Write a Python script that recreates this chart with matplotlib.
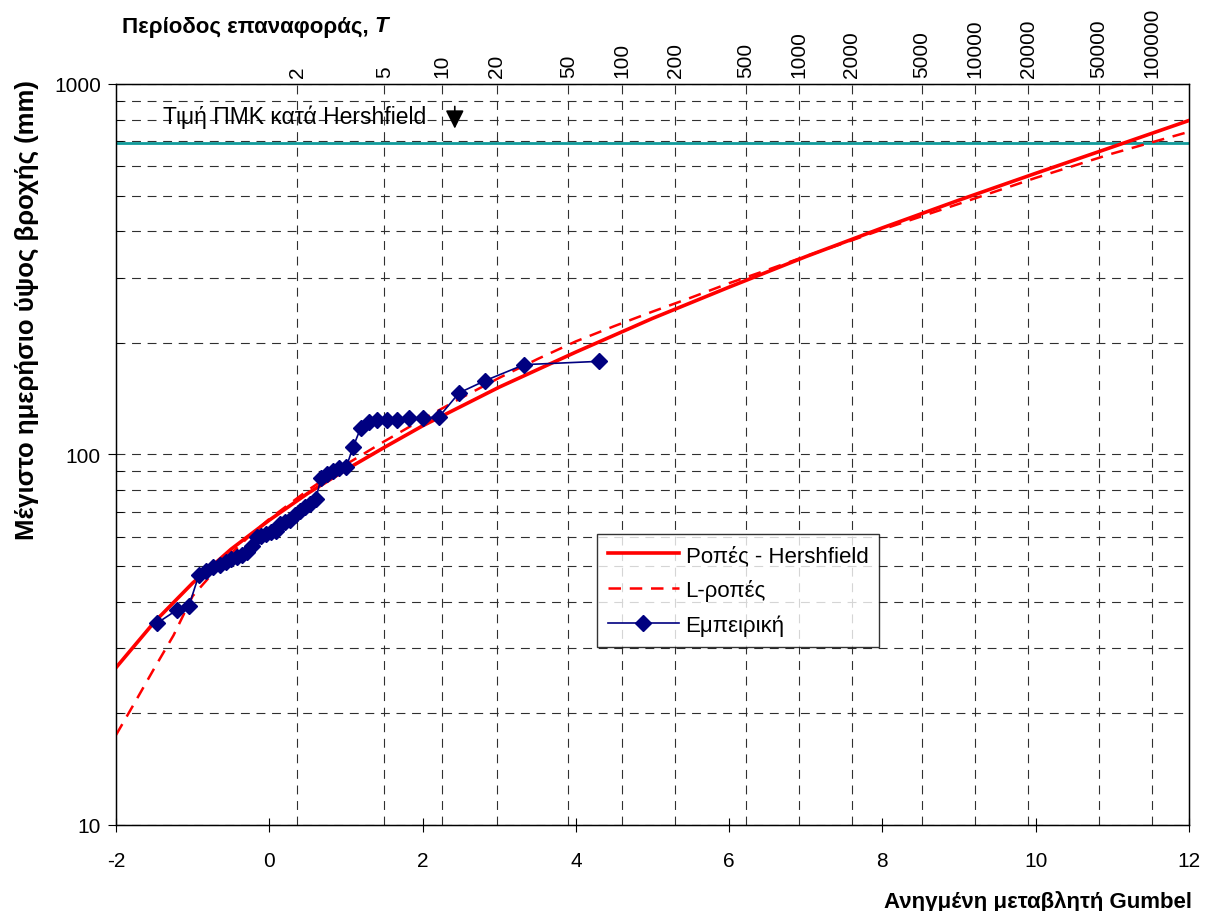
import numpy as np
import matplotlib
matplotlib.use("Agg")
import matplotlib.pyplot as plt
from matplotlib.ticker import LogLocator, FixedLocator, NullFormatter, FixedFormatter

plt.rcParams['font.family'] = ['Liberation Sans', 'DejaVu Sans']
plt.rcParams['axes.unicode_minus'] = False

# --- data ---
# moments - Hershfield fit
mom_x = [-2, -1.5, -1, -0.5, 0, 0.5, 1, 1.5, 2, 3, 4, 5, 6, 7, 8, 9, 10, 11, 12]
mom_y = [26.6, 35.3, 45.0, 55.5, 66.5, 78.5, 91.0, 104.5, 119.5, 152, 189, 233,
         283, 342, 409, 486, 574, 676, 797]

# L-moments fit
lmom_x = [-2, -1.75, -1.5, -1.25, -1, -0.75, -0.5, -0.25, 0, 0.5, 1, 1.5, 2, 2.5,
          3, 3.5, 4, 4.5, 5, 5.5, 6, 6.5, 7, 7.5, 8, 9, 10, 11, 12]
lmom_y = [17.5, 21.5, 26.5, 32.5, 41.5, 47.5, 54.0, 60.5, 67.0, 80.0, 94.0, 108.5,
          124.5, 142, 161, 181, 202, 222, 243, 265, 290, 315, 343, 372, 405, 475,
          558, 649, 743]

# empirical points (reduced variate, mm)
emp_x = [-1.47, -1.21, -1.05, -0.92, -0.82, -0.73, -0.645, -0.567, -0.495, -0.425,
         -0.358, -0.292, -0.228, -0.165, -0.103, -0.041, 0.020, 0.082, 0.144, 0.207,
         0.270, 0.334, 0.400, 0.466, 0.535, 0.606, 0.678, 0.754, 0.833, 0.915,
         1.002, 1.094, 1.191, 1.296, 1.410, 1.534, 1.672, 1.827, 2.005, 2.216,
         2.477, 2.818, 3.326, 4.30]
emp_y = [35.0, 38.0, 39.0, 47.2, 48.6, 49.6, 50.4, 51.2, 52.3, 53.0,
         53.6, 54.7, 56.5, 59.8, 60.3, 60.9, 61.6, 62.2, 64.9, 65.6,
         66.5, 68.5, 70.5, 72.2, 73.6, 76.0, 86.5, 88.7, 90.5, 92.0,
         92.3, 104.8, 117.8, 122.5, 123.8, 124.1, 124.1, 125.3, 125.3, 126.5,
         146.7, 158.3, 174.8, 178.4]

pmp_value = 695
return_periods = [2, 5, 10, 20, 50, 100, 200, 500, 1000, 2000, 5000, 10000,
                  20000, 50000, 100000]

fig = plt.figure(figsize=(12.05, 9.12), dpi=100)
ax = fig.add_axes([0.0963, 0.0943, 0.8904, 0.8125])

ax.set_yscale('log')
ax.set_xlim(-2, 12)
ax.set_ylim(10, 1000)

grid_kw = dict(color='#303030', lw=0.8, linestyle=(0, (8, 6)))

# vertical grid at return periods (gumbel reduced variate)
t_pos = [-np.log(-np.log(1 - 1 / t)) for t in return_periods]
for p in t_pos:
    ax.axvline(p, zorder=0, **grid_kw)

ax.yaxis.set_minor_locator(LogLocator(base=10, subs=np.arange(2, 10)))
ax.yaxis.set_minor_formatter(NullFormatter())
ax.yaxis.set_major_locator(FixedLocator([10, 100, 1000]))
ax.yaxis.set_major_formatter(FixedFormatter(['10', '100', '1000']))
ax.grid(True, axis='y', which='both', zorder=0, **grid_kw)

ax.set_xticks(range(-2, 13, 2))
ax.tick_params(axis='x', direction='inout', length=10, labelsize=15, pad=14)
ax.tick_params(axis='y', which='major', direction='out', length=6, labelsize=15,
               pad=5)
ax.tick_params(axis='y', which='minor', direction='in', length=5)

# PMP line
ax.axhline(pmp_value, color='#109a9a', lw=2, zorder=2)

ax.plot(mom_x, mom_y, color='red', lw=2.6, label='Ροπές - Hershfield', zorder=3)
ax.plot(lmom_x, lmom_y, color='red', lw=1.8, linestyle=(0, (5, 3.5)),
        label='L-ροπές', zorder=3)
ax.plot(emp_x, emp_y, color='#000080', lw=1.2, marker='D', ms=8.5,
        label='Εμπειρική', zorder=4)

ax.text(-1.39, 820, 'Τιμή ΠΜΚ κατά Hershfield', fontsize=16.5, va='center',
        ha='left')
ax.annotate('', xy=(2.42, 745), xytext=(2.42, 885),
            arrowprops=dict(arrowstyle='-|>', color='black', lw=1.2,
                            mutation_scale=28))

for s in ax.spines.values():
    s.set_linewidth(1)

leg = ax.legend(loc='lower left', bbox_to_anchor=(0.448, 0.240), fontsize=16,
                frameon=True, fancybox=False, edgecolor='black',
                handlelength=3.2, borderpad=0.5, labelspacing=0.6,
                handletextpad=0.3, borderaxespad=0)
leg.get_frame().set_linewidth(1)

# top axis with return periods
ax_top = ax.twiny()
ax_top.set_xlim(-2, 12)
ax_top.set_xticks(t_pos)
ax_top.set_xticklabels([str(t) for t in return_periods], rotation=90)
ax_top.tick_params(axis='x', length=0, labelsize=15, pad=5)

top_lab = fig.text(122 / 1205, 1 - 27 / 912, 'Περίοδος επαναφοράς, ', fontsize=16,
                   fontweight='bold', va='center', ha='left')
renderer = fig.canvas.get_renderer()
bb = top_lab.get_window_extent(renderer)
fig.text(bb.x1 / fig.bbox.width, 1 - 27 / 912, 'T', fontsize=16, fontweight='bold',
         fontstyle='italic', va='center', ha='left')
fig.text(1192 / 1205, 1 - 902 / 912, 'Ανηγμένη μεταβλητή Gumbel', fontsize=16,
         fontweight='bold', va='center', ha='right')
fig.text(27 / 1205, 1 - 310 / 912, 'Μέγιστο ημερήσιο ύψος βροχής (mm)',
         fontsize=18.5, fontweight='bold', rotation=90, va='center', ha='center')

fig.savefig('out.png', dpi=100)
